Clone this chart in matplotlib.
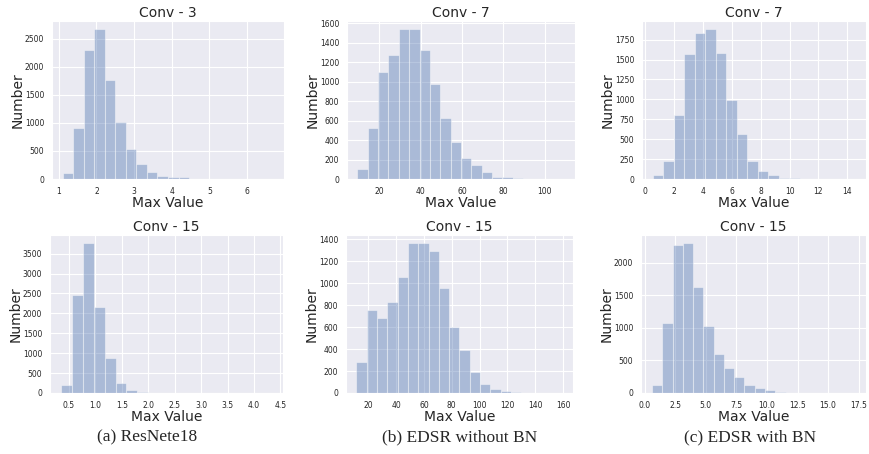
import numpy as np
import matplotlib.pyplot as plt
import seaborn as sns

# Histogram counts (20 bins each), with the value range of the bins
conv3_resnet_range = (1.1, 6.7)
conv3_resnet_counts = [110, 900, 2300, 2680, 1760, 1020, 540, 270, 130, 60,
                       30, 30, 6, 4, 2, 1, 1, 1, 0, 1]

conv7_nobn_range = (9.5, 109.5)
conv7_nobn_counts = [100, 520, 1100, 1270, 1540, 1545, 1320, 980, 630, 380,
                     215, 140, 75, 25, 20, 8, 4, 3, 2, 1]

conv7_bn_range = (0.5, 15.1)
conv7_bn_counts = [55, 230, 810, 1570, 1840, 1890, 1580, 990, 560, 230,
                   100, 55, 15, 15, 5, 2, 1, 1, 1, 1]

conv15_resnet_range = (0.35, 4.47)
conv15_resnet_counts = [200, 2470, 3780, 2160, 870, 250, 80, 25, 5, 3,
                        2, 1, 1, 1, 0, 0, 1, 0, 0, 1]

conv15_nobn_range = (11.4, 159.8)
conv15_nobn_counts = [280, 760, 680, 830, 1060, 1370, 1370, 1290, 960, 605,
                      395, 195, 85, 40, 20, 8, 3, 2, 1, 1]

conv15_bn_range = (0.6, 17.4)
conv15_bn_counts = [120, 1070, 2270, 2310, 1620, 1030, 600, 385, 245, 130,
                    75, 40, 15, 5, 3, 2, 1, 1, 1, 1]

titles = ['Conv - 3', 'Conv - 7', 'Conv - 7', 'Conv - 15', 'Conv - 15', 'Conv - 15']
captions = ['(a) ResNete18', '(b) EDSR without BN', '(c) EDSR with BN']

panels = [
    (conv3_resnet_range, conv3_resnet_counts),
    (conv7_nobn_range, conv7_nobn_counts),
    (conv7_bn_range, conv7_bn_counts),
    (conv15_resnet_range, conv15_resnet_counts),
    (conv15_nobn_range, conv15_nobn_counts),
    (conv15_bn_range, conv15_bn_counts),
]

sns.set_style('darkgrid')
plt.rcParams['font.family'] = ['DejaVu Sans']

W, H = 870, 454
fig = plt.figure(figsize=(W / 100, H / 100), dpi=100)

# axes boxes in pixels: left, right, top, bottom
boxes = [
    (52, 284, 21, 179), (347, 575, 21, 179), (642, 866, 21, 179),
    (50, 283, 235, 393), (346, 573, 235, 393), (641, 866, 235, 393),
]
xlims = [(0.82, 6.98), (4.5, 114.5), (-0.23, 15.3),
         (0.14, 4.55), (4.0, 167.2), (-0.3, 18.1)]
xticks = [None, [20, 40, 60, 80, 100], np.arange(0, 15, 2),
          np.arange(0.5, 4.6, 0.5), np.arange(20, 161, 20), np.arange(0, 17.6, 2.5)]

color = '#4c72b0'

for i, ((lo, hi), counts) in enumerate(panels):
    l, r, t, b = boxes[i]
    ax = fig.add_axes([l / W, 1 - b / H, (r - l) / W, (b - t) / H])
    edges = np.linspace(lo, hi, len(counts) + 1)
    centers = (edges[:-1] + edges[1:]) / 2
    ax.hist(centers, bins=edges, weights=counts, color=color, alpha=0.4,
            edgecolor='white', linewidth=0.8)
    ax.set_xlim(xlims[i])
    if xticks[i] is not None:
        ax.set_xticks(xticks[i])
    ax.set_title(titles[i], fontsize=10, pad=3, color='.15')
    ax.set_xlabel('Max Value', fontsize=10, labelpad=0.5, color='.15')
    ax.set_ylabel('Number', fontsize=10, labelpad=0.5, color='.15')
    ax.tick_params(labelsize=5.5, pad=2)
    if i == 5:
        ax.set_xticklabels(['%.1f' % v for v in xticks[i]])

for x, txt in zip([147, 460, 750], captions):
    fig.text(x / W, 1 - 437 / H, txt, ha='center', va='center',
             fontsize=12.5, family='Liberation Serif')

fig.savefig('out.png', dpi=100)
